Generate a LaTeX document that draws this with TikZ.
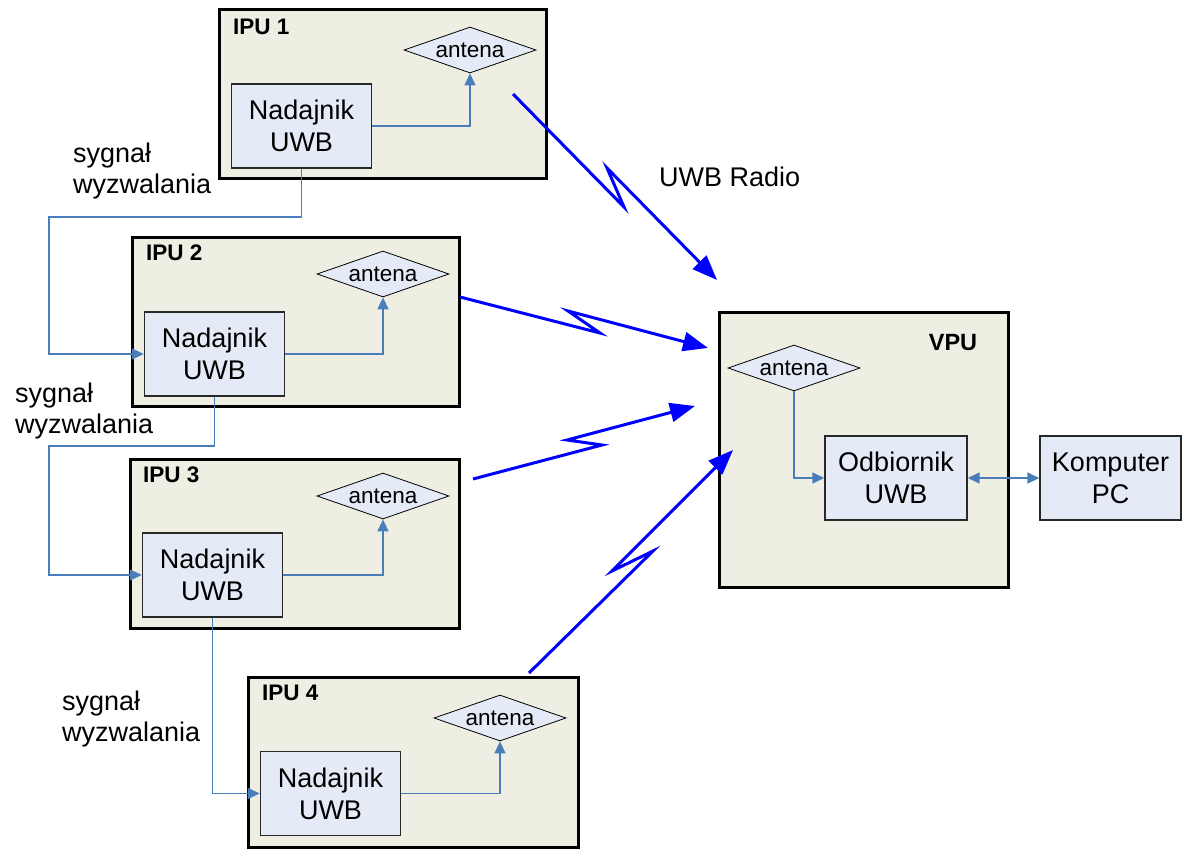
\documentclass[tikz,border=0pt]{standalone}
\usepackage{fontspec}
\setmainfont{Liberation Sans}
\usetikzlibrary{shapes.geometric,arrows.meta}
\definecolor{outerfill}{RGB}{238,238,226}
\definecolor{innerfill}{RGB}{228,235,246}
\definecolor{sigblue}{RGB}{74,126,187}
\definecolor{radioblue}{RGB}{0,0,255}
\definecolor{inborder}{RGB}{40,40,40}
\tikzset{
  outerbox/.style={draw=black, line width=3pt, fill=outerfill, inner sep=0pt},
  inbox/.style={draw=inborder, line width=1.4pt, fill=innerfill, inner sep=0pt,
    minimum width=140pt, minimum height=84pt, align=center, font=\fontsize{27}{32}\selectfont},
  antbox/.style={diamond, draw=black, line width=0.8pt, fill=innerfill, inner sep=0pt, aspect=2.9,
    minimum width=132pt, minimum height=46pt, font=\fontsize{22.5}{26}\selectfont},
  unittitle/.style={anchor=west, inner sep=0pt, font=\fontsize{22.5}{26}\selectfont\bfseries},
  lbl/.style={anchor=west, inner sep=0pt, align=left, font=\fontsize{27}{31}\selectfont},
  sig/.style={draw=sigblue, line width=1.5pt, -{Triangle[length=12pt,width=11pt]}},
  radio/.style={draw=radioblue, line width=3pt, -{Triangle[length=25pt,width=19pt]}}
}
\begin{document}
\begin{tikzpicture}[x=1pt,y=-1pt]
\useasboundingbox (0,0) rectangle (1195,859);

% outer units
\node[outerbox, minimum width=327pt, minimum height=168pt] (ipu1) at (382.5,94) {};
\node[outerbox, minimum width=327pt, minimum height=169pt] (ipu2) at (295.5,321.5) {};
\node[outerbox, minimum width=329pt, minimum height=169pt] (ipu3) at (294.5,543.5) {};
\node[outerbox, minimum width=330pt, minimum height=170pt] (ipu4) at (413,762) {};
\node[outerbox, minimum width=289pt, minimum height=275pt] (vpu) at (863.5,449.5) {};

% titles
\node[unittitle] (t1) at (233,27) {IPU 1};
\node[unittitle] (t2) at (146,253) {IPU 2};
\node[unittitle] (t3) at (143,475) {IPU 3};
\node[unittitle] (t4) at (262,693) {IPU 4};
\node[inner sep=0pt, font=\fontsize{23.5}{27}\selectfont\bfseries] (tv) at (953,343) {VPU};

% transmitters
\node[inbox] (n1) at (301.5,126) {Nadajnik\\UWB};
\node[inbox] (n2) at (214.5,354) {Nadajnik\\UWB};
\node[inbox] (n3) at (212.5,575) {Nadajnik\\UWB};
\node[inbox] (n4) at (330.5,793.5) {Nadajnik\\UWB};
\node[inbox, minimum width=142pt] (odb) at (896,478) {Odbiornik\\UWB};
\node[inbox, minimum width=141pt] (pc) at (1110.5,478) {Komputer\\PC};

% antennas
\node[antbox] (a1) at (470,50) {antena};
\node[antbox] (a2) at (383,274) {antena};
\node[antbox] (a3) at (383,496) {antena};
\node[antbox] (a4) at (500,718) {antena};
\node[antbox] (av) at (794,368) {antena};

% transmitter -> antenna
\draw[sig] (n1.east) -| (a1.south);
\draw[sig] (n2.east) -| (a2.south);
\draw[sig] (n3.east) -| (a3.south);
\draw[sig] (n4.east) -| (a4.south);
\draw[sig] (av.south) |- (odb.west);
\draw[sig, {Triangle[length=12pt,width=11pt]}-{Triangle[length=12pt,width=11pt]}] (odb.east) -- (pc.west);

% trigger signals
\draw[sig] (n1.south) |- (49,217) |- (n2.west);
\draw[sig] (n2.south) |- (49,446) |- (n3.west);
\draw[sig] (n3.south) |- (n4.west);

\node[lbl] (l1) at (73,171) {sygnał\\wyzwalania};
\node[lbl] (l2) at (15,411) {sygnał\\wyzwalania};
\node[lbl] (l3) at (62,719) {sygnał\\wyzwalania};

% radio links
\draw[radio] (513,94) -- (624,207) -- (607,168) -- (717,280);
\draw[radio] (460,297) -- (600,333) -- (568,311) -- (708,348);
\draw[radio] (473,479) -- (602,445) -- (567,440) -- (695,406);
\draw[radio] (529,673) -- (653,551) -- (612,571) -- (733,450);
\node[anchor=west, inner sep=0pt, font=\fontsize{27}{31}\selectfont] (radiolbl) at (659,177) {UWB Radio};
\end{tikzpicture}
\end{document}
